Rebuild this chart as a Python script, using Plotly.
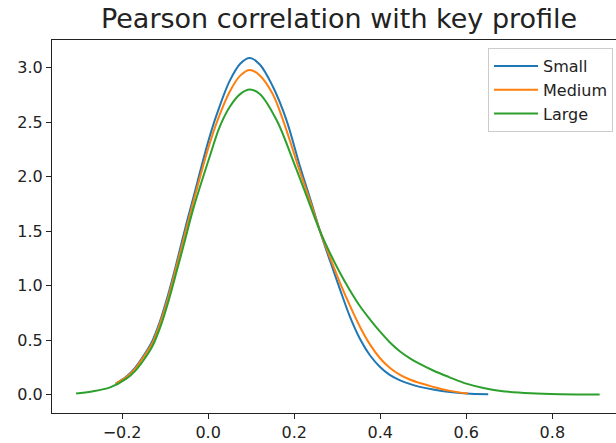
import plotly.graph_objects as go

# (KDE curves of Pearson correlation)
small_x = [-0.215, -0.19, -0.17, -0.151, -0.13, -0.113, -0.095, -0.074, -0.055, -0.035, 0.0, 0.019, 0.05,
           0.075, 0.097, 0.12, 0.15, 0.182, 0.213, 0.24, 0.26, 0.283, 0.306, 0.329, 0.353, 0.376, 0.399,
           0.422, 0.446, 0.47, 0.492, 0.523, 0.562, 0.6, 0.651]
small_y = [0.10, 0.165, 0.245, 0.35, 0.49, 0.66, 0.89, 1.20, 1.50, 1.80, 2.32, 2.56, 2.88,
           3.04, 3.09, 3.03, 2.83, 2.52, 2.10, 1.76, 1.50, 1.23, 0.97, 0.72, 0.51, 0.36, 0.255,
           0.18, 0.13, 0.095, 0.07, 0.045, 0.022, 0.009, 0.002]

medium_x = [-0.215, -0.19, -0.17, -0.151, -0.13, -0.113, -0.095, -0.074, -0.055, -0.035, 0.0, 0.022, 0.05,
            0.075, 0.097, 0.12, 0.15, 0.174, 0.213, 0.24, 0.26, 0.283, 0.306, 0.329, 0.353, 0.376, 0.399,
            0.422, 0.446, 0.47, 0.492, 0.523, 0.562, 0.604]
medium_y = [0.10, 0.16, 0.235, 0.34, 0.47, 0.64, 0.86, 1.17, 1.46, 1.76, 2.26, 2.52, 2.78,
            2.93, 2.98, 2.93, 2.76, 2.52, 2.05, 1.74, 1.50, 1.26, 1.03, 0.82, 0.62, 0.46, 0.335,
            0.245, 0.18, 0.135, 0.105, 0.07, 0.033, 0.008]

large_x = [-0.307, -0.27, -0.228, -0.19, -0.17, -0.151, -0.13, -0.113, -0.095, -0.074, -0.055, -0.035,
           0.004, 0.027, 0.05, 0.075, 0.097, 0.12, 0.159, 0.2, 0.23, 0.26, 0.283, 0.306, 0.329, 0.353,
           0.376, 0.399, 0.422, 0.446, 0.47, 0.492, 0.523, 0.56, 0.6, 0.64, 0.68, 0.75, 0.82, 0.91]
large_y = [0.01, 0.028, 0.065, 0.145, 0.215, 0.31, 0.44, 0.60, 0.82, 1.12, 1.40, 1.70,
           2.19, 2.46, 2.64, 2.76, 2.80, 2.76, 2.52, 2.12, 1.81, 1.50, 1.30, 1.12, 0.96, 0.81,
           0.69, 0.58, 0.48, 0.395, 0.33, 0.28, 0.22, 0.16, 0.10, 0.06, 0.033, 0.011, 0.003, 0.001]

series_names = ["Small", "Medium", "Large"]
series_colors = ["#1f77b4", "#ff7f0e", "#2ca02c"]

x_ticks = [-0.2, 0.0, 0.2, 0.4, 0.6, 0.8]
y_ticks = [0.0, 0.5, 1.0, 1.5, 2.0, 2.5, 3.0]

fig = go.Figure()
for name, xs, ys, col in zip(series_names, [small_x, medium_x, large_x], [small_y, medium_y, large_y], series_colors):
    fig.add_trace(go.Scatter(x=xs, y=ys, mode="lines", name=name, legendgroup=name,
                             line=dict(color=col, width=2, shape="spline", smoothing=1.0)))

axis_font = dict(family="DejaVu Sans", size=16, color="#222")
fig.update_layout(
    width=616, height=443,
    margin=dict(l=52, r=0, t=40, b=30),
    paper_bgcolor="white", plot_bgcolor="white",
    title=dict(text="Pearson correlation with key profile", x=0.509, xref="paper", xanchor="center",
               y=1 - 19 / 443, yref="container", yanchor="middle",
               font=dict(family="DejaVu Sans", size=27, color="#222")),
    legend=dict(x=0.9947, y=0.9786, xanchor="right", yanchor="top", bordercolor="#cccccc", borderwidth=1,
                bgcolor="rgba(255,255,255,0.8)", font=dict(family="DejaVu Sans", size=16, color="#222"),
                tracegroupgap=0, itemwidth=44),
    showlegend=True,
)
fig.update_xaxes(range=[-0.363, 0.948], tickvals=x_ticks, tickformat=".1f", ticks="outside", ticklen=5,
                 tickcolor="#222", showline=True, linecolor="#222", linewidth=1, mirror=True,
                 showgrid=False, zeroline=False, tickfont=axis_font)
fig.update_yaxes(range=[-0.17, 3.255], tickvals=y_ticks, tickformat=".1f", ticks="outside", ticklen=5,
                 tickcolor="#222", showline=True, linecolor="#222", linewidth=1, mirror=False,
                 showgrid=False, zeroline=False, tickfont=axis_font)

fig.write_html("out.html")
